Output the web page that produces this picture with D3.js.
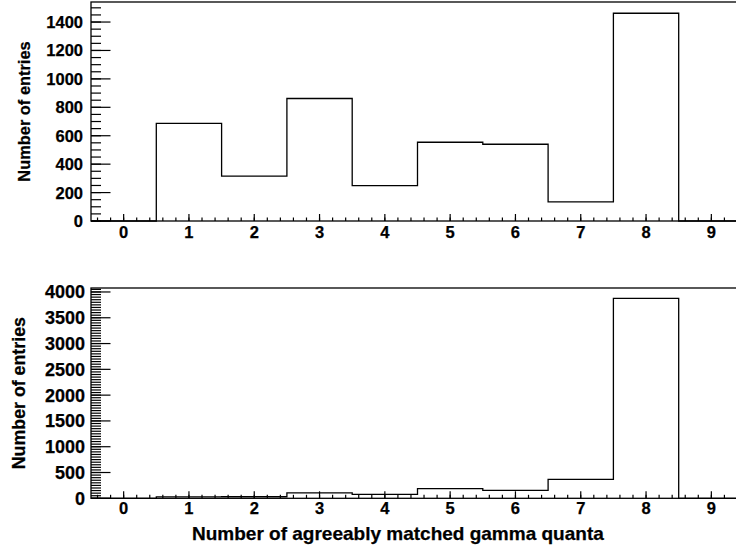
<!DOCTYPE html>
<html>
<head>
<meta charset="utf-8">
<script src="https://cdn.jsdelivr.net/npm/d3@7"></script>
<style>
  html, body { margin: 0; padding: 0; background: #fff; }
  svg { display: block; }
  text { font-family: "Liberation Sans", Arial, Helvetica, sans-serif; font-weight: bold; fill: #000; stroke: #000; stroke-width: 0.25px; }
</style>
</head>
<body>
<svg id="chart" width="736" height="547"></svg>
<script>
// ---- data ----
const bins = [0, 1, 2, 3, 4, 5, 6, 7, 8, 9];
const topCounts = [0, 687, 316, 862, 249, 554, 540, 134, 1462, 0];
const bottomCounts = [0, 28, 30, 105, 75, 186, 155, 368, 3877, 0];
const xTickLabels = ["0", "1", "2", "3", "4", "5", "6", "7", "8", "9"];
const topYTicks = [0, 200, 400, 600, 800, 1000, 1200, 1400];
const bottomYTicks = [0, 500, 1000, 1500, 2000, 2500, 3000, 3500, 4000];
const yTitle = "Number of entries";
const xTitle = "Number of agreeably matched gamma quanta";

const svg = d3.select("#chart");
const x = d3.scaleLinear().domain([-0.5, 9.5]).range([91, 744]);

function panel(cfg) {
  const y = d3.scaleLinear().domain([0, cfg.ymax]).range([cfg.bottom, cfg.top]);
  const g = svg.append("g");

  // frame
  g.append("rect")
    .attr("x", x(-0.5)).attr("y", y(cfg.ymax))
    .attr("width", x(9.5) - x(-0.5)).attr("height", y(0) - y(cfg.ymax))
    .attr("fill", "none").attr("stroke", "#000").attr("stroke-width", 1.3);

  // y minor ticks
  const yMinor = d3.range(0, cfg.ymax, cfg.yMinorStep);
  g.selectAll(".ymin").data(yMinor).enter().append("line")
    .attr("x1", x(-0.5)).attr("x2", x(-0.5) + 10)
    .attr("y1", d => y(d)).attr("y2", d => y(d))
    .attr("stroke", "#000").attr("stroke-width", 1.2);
  // y major ticks
  g.selectAll(".ymaj").data(cfg.yTicks).enter().append("line")
    .attr("x1", x(-0.5)).attr("x2", x(-0.5) + 19.5)
    .attr("y1", d => y(d)).attr("y2", d => y(d))
    .attr("stroke", "#000").attr("stroke-width", 1.2);
  g.selectAll(".ylab").data(cfg.yTicks).enter().append("text")
    .attr("x", cfg.yLabelX).attr("y", d => y(d))
    .attr("dy", "0.36em")
    .attr("text-anchor", "end")
    .style("font-size", cfg.yFont + "px")
    .text(d => String(d));

  // x minor ticks
  const xMinor = d3.range(-0.4, 9.5, 0.2);
  g.selectAll(".xmin").data(xMinor).enter().append("line")
    .attr("x1", d => x(d)).attr("x2", d => x(d))
    .attr("y1", y(0)).attr("y2", y(0) - 3.5)
    .attr("stroke", "#000").attr("stroke-width", 1.2);
  g.selectAll(".xmaj").data(bins).enter().append("line")
    .attr("x1", d => x(d)).attr("x2", d => x(d))
    .attr("y1", y(0)).attr("y2", y(0) - 7)
    .attr("stroke", "#000").attr("stroke-width", 1.2);
  g.selectAll(".xlab").data(bins).enter().append("text")
    .attr("x", d => x(d)).attr("y", y(0) + cfg.xLabelDy)
    .attr("text-anchor", "middle")
    .style("font-size", cfg.xFont + "px")
    .text((d, i) => xTickLabels[i]);

  // histogram step outline
  let p = d3.path();
  p.moveTo(x(bins[0] - 0.5), y(cfg.counts[0]));
  cfg.counts.forEach((v, i) => {
    if (i > 0) p.lineTo(x(bins[i] - 0.5), y(v));
    p.lineTo(x(bins[i] + 0.5), y(v));
  });
  g.append("path").attr("d", p.toString())
    .attr("fill", "none").attr("stroke", "#000").attr("stroke-width", 1.3);

  // y title
  g.append("text")
    .attr("transform", `translate(${cfg.yTitleX},${(cfg.top + cfg.bottom) / 2}) rotate(-90)`)
    .attr("text-anchor", "middle")
    .style("font-size", cfg.yTitleFont + "px")
    .text(yTitle);
  return y;
}

panel({ counts: topCounts, ymax: 1541, top: 2, bottom: 221, yTicks: topYTicks, yMinorStep: 50,
        yLabelX: 83, yFont: 16.5, xFont: 16.5, xLabelDy: 17, yTitleX: 30, yTitleFont: 16.4 });
panel({ counts: bottomCounts, ymax: 4077, top: 288, bottom: 498.3, yTicks: bottomYTicks, yMinorStep: 50,
        yLabelX: 85, yFont: 18, xFont: 16.5, xLabelDy: 15.5, yTitleX: 25, yTitleFont: 17.8 });

svg.append("text")
  .attr("x", 192).attr("y", 540)
  .attr("text-anchor", "start")
  .style("font-size", "19px")
  .text(xTitle);
</script>
</body>
</html>
